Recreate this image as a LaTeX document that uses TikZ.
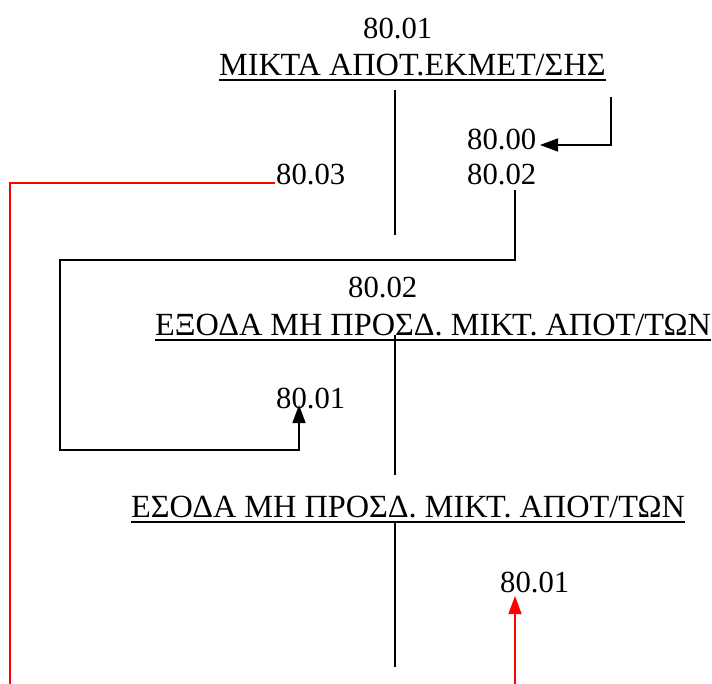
\documentclass[tikz,border=0pt]{standalone}
\usepackage{fontspec}
\setmainfont{Liberation Serif}
\usetikzlibrary{arrows.meta}
\tikzset{
  lbl/.style={anchor=base west, inner sep=0pt, font=\fontsize{30.7}{36}\selectfont},
  ttl/.style={anchor=base west, inner sep=0pt, font=\fontsize{32.3}{38}\selectfont},
  blk/.style={draw=black, line width=1.5pt},
  rd/.style={draw=red, line width=1.5pt},
  ul/.style={line width=2pt},
  bighead/.tip={Triangle[length=18pt,width=13pt]}
}
\begin{document}
\begin{tikzpicture}
\useasboundingbox (0pt,0pt) rectangle (712pt,-684pt);
% texts
\node[lbl] (h1) at (363pt,-39pt) {80.01};
\node[ttl] (t1) at (219pt,-76pt) {ΜΙΚΤΑ ΑΠΟΤ.ΕΚΜΕΤ/ΣΗΣ};
\node[lbl] (n8000) at (467pt,-150pt) {80.00};
\node[lbl] (n8002a) at (467pt,-185pt) {80.02};
\node[lbl] (n8003) at (276pt,-185pt) {80.03};
\node[lbl] (n8002b) at (348pt,-298pt) {80.02};
\node[ttl] (t2) at (155pt,-336pt) {ΕΞΟΔΑ ΜΗ ΠΡΟΣΔ. ΜΙΚΤ. ΑΠΟΤ/ΤΩΝ};
\node[lbl] (n8001m) at (276pt,-408pt) {80.01};
\node[ttl] (t3) at (131pt,-517pt) {ΕΣΟΔΑ ΜΗ ΠΡΟΣΔ. ΜΙΚΤ. ΑΠΟΤ/ΤΩΝ};
\node[lbl] (n8001l) at (500pt,-592pt) {80.01};
% underlines
\draw[ul] ([yshift=-4pt]t1.base west) -- ([yshift=-4pt]t1.base east);
\draw[ul] ([yshift=-4pt]t2.base west) -- ([yshift=-4pt]t2.base east);
\draw[ul] ([yshift=-5pt]t3.base west) -- ([yshift=-5pt]t3.base east);
% coordinates
\coordinate (v1a) at (395pt,-90pt);
\coordinate (v1b) at (395pt,-235pt);
\coordinate (v2a) at (395pt,-335pt);
\coordinate (v2b) at (395pt,-475pt);
\coordinate (v3a) at (395pt,-522pt);
\coordinate (v3b) at (395pt,-667pt);
\coordinate (c1) at (611pt,-97pt);
\coordinate (a1) at (540pt,-145pt);
\coordinate (s1) at (515pt,-190pt);
\coordinate (s2) at (60pt,-260pt);
\coordinate (s3) at (299pt,-450pt);
\coordinate (s4) at (299pt,-405pt);
\coordinate (r0) at (275pt,-183pt);
\coordinate (r1) at (10pt,-684pt);
\coordinate (r2) at (515pt,-684pt);
\coordinate (r3) at (515pt,-596pt);
% T lines
\draw[blk] (v1a) -- (v1b);
\draw[blk] (v2a) -- (v2b);
\draw[blk] (v3a) -- (v3b);
% connectors
\draw[blk,-bighead] (c1) |- (a1);
\draw[blk,-bighead] (s1) |- (s2) |- (s3) -- (s4);
\draw[rd] (r0) -| (r1);
\draw[rd,-bighead] (r2) -- (r3);
\end{tikzpicture}
\end{document}
